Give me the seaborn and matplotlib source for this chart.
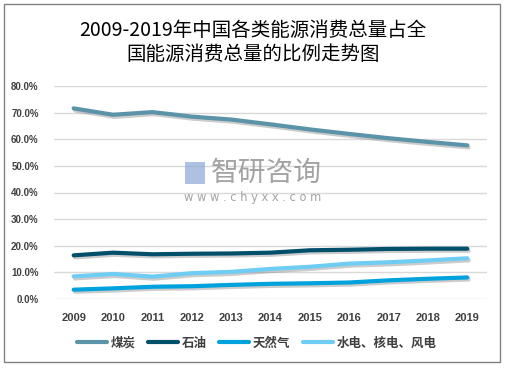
import numpy as np
import pandas as pd
import matplotlib.pyplot as plt
import matplotlib.patheffects as pe
from matplotlib.patches import Rectangle
import seaborn as sns

years = [2009, 2010, 2011, 2012, 2013, 2014, 2015, 2016, 2017, 2018, 2019]
coal = [71.6, 69.2, 70.2, 68.5, 67.4, 65.6, 63.7, 62.0, 60.4, 59.0, 57.7]
oil = [16.4, 17.4, 16.8, 17.0, 17.1, 17.4, 18.3, 18.5, 18.8, 18.9, 18.9]
gas = [3.5, 4.0, 4.6, 4.8, 5.3, 5.7, 5.9, 6.2, 7.0, 7.6, 8.1]
clean = [8.5, 9.4, 8.4, 9.7, 10.2, 11.3, 12.1, 13.3, 13.8, 14.5, 15.3]
series_names = ["煤炭", "石油", "天然气", "水电、核电、风电"]
colors = ["#5b93a8", "#004f6b", "#00a2dd", "#6fcdf4"]

df = pd.DataFrame({"year": years, series_names[0]: coal, series_names[1]: oil,
                   series_names[2]: gas, series_names[3]: clean})
long = df.melt(id_vars="year", var_name="type", value_name="share")
long["share"] = long["share"] / 100

sns.set_style("white")
plt.rcParams["font.family"] = ["Noto Sans CJK SC", "DejaVu Sans"]

fig = plt.figure(figsize=(5.06, 3.68), dpi=100)
ax = fig.add_axes([54 / 506, 69 / 368, 433 / 506, 213 / 368])

sns.lineplot(data=long, x="year", y="share", hue="type", hue_order=series_names,
             palette=colors, linewidth=3, ax=ax, legend=False)
for line in ax.get_lines():
    line.set_solid_capstyle("round")
    line.set_path_effects([pe.SimpleLineShadow(offset=(1, -1.5), shadow_color="grey", alpha=0.4),
                           pe.Normal()])

ax.set_xlim(2008.5, 2019.5)
ax.set_ylim(0, 0.8)
ax.set_xticks(years)
ax.set_xticklabels([str(y) for y in years], fontweight="bold", fontsize=8, color="#404040",
                   family="Liberation Sans")
ax.set_yticks(np.arange(0, 0.81, 0.1))
ax.set_yticklabels(["%.1f%%" % (v * 100) for v in np.arange(0, 0.81, 0.1)], fontweight="bold",
                   fontsize=7, color="#404040", family="Liberation Sans")
ax.tick_params(axis="x", pad=10, length=0)
ax.tick_params(axis="y", pad=11, length=0)
ax.grid(axis="y", color="#d9d9d9", linewidth=1)
ax.set_axisbelow(True)
for s in ax.spines.values():
    s.set_visible(False)
ax.set_xlabel("")
ax.set_ylabel("")

# watermark
fig.text(266 / 506, 1 - 173 / 368, "智研咨询", fontsize=20, color="#8c8c8c", alpha=0.8,
         ha="center", va="center")
fig.text(253 / 506, 1 - 197 / 368, "w w w . c h y x x . c o m", fontsize=8.3, color="#8c8c8c",
         alpha=0.8, ha="center", va="center", family="DejaVu Sans")
fig.patches.append(Rectangle((185 / 506, 1 - 184 / 368), 20 / 506, 22 / 368,
                             transform=fig.transFigure, facecolor="#8aa9d6", alpha=0.7,
                             edgecolor="none"))

fig.text(0.5, 1 - 30 / 368, "2009-2019年中国各类能源消费总量占全", fontsize=14, ha="center",
         va="center", color="black")
fig.text(0.5, 1 - 55 / 368, "国能源消费总量的比例走势图", fontsize=14, ha="center", va="center",
         color="black")

handles = [plt.Line2D([0], [0], color=c, linewidth=3, solid_capstyle="round") for c in colors]
fig.legend(handles, series_names, loc="center", bbox_to_anchor=(0.507, 1 - 343 / 368), ncol=4,
           frameon=False, handlelength=2.4, columnspacing=1.0, handletextpad=0.3,
           labelcolor="#404040", prop={"weight": "bold", "size": 9})

fig.patches.append(Rectangle((4 / 506, 1 - 362 / 368), 496 / 506, 358 / 368,
                             transform=fig.transFigure, facecolor="none", edgecolor="#808080",
                             linewidth=1))

fig.savefig("out.png", dpi=100)
